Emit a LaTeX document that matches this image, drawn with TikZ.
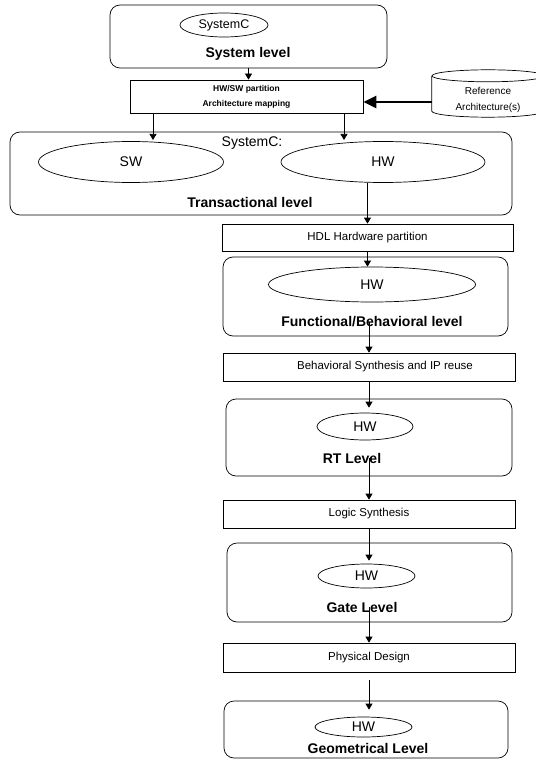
\documentclass[tikz,border=0pt]{standalone}
\usepackage{fontspec}
\setmainfont{Liberation Sans}
\usetikzlibrary{arrows.meta,shapes.geometric}
\newcommand{\fsz}[2]{\fontsize{#1}{#2}\selectfont}

\begin{document}
\begin{tikzpicture}[x=1pt, y=-1pt, >={Triangle[length=6pt,width=7pt]},
  levelbox/.style={draw, rounded corners=10pt, line width=0.7pt, inner sep=0pt},
  stepbox/.style={draw, line width=0.7pt, inner sep=0pt, font=\fsz{11.5}{14}},
  hwell/.style={draw, ellipse, line width=0.7pt, inner sep=0pt, font=\fsz{14}{16}},
  lvllabel/.style={font=\bfseries\fsz{14}{16}},
  link/.style={->, line width=0.7pt}]
\useasboundingbox (0,0) rectangle (535,759);
% system level
\node[levelbox, minimum width=277pt, minimum height=63pt] (sysbox) at (248.5,36.5) {};
\node[hwell, minimum width=88pt, minimum height=24pt, font=\fsz{12.5}{14}] (sysc) at (224,25) {SystemC};
\node[lvllabel] (syslbl) at (248,54) {System level};
% partition and reference architecture
\node[stepbox, minimum width=233pt, minimum height=33pt, align=center, font=\bfseries\fsz{8.5}{15}] (mapping) at (246.5,96.5) {HW/SW partition\\Architecture mapping};
\node[minimum width=112pt, minimum height=48pt, inner sep=0pt, align=center, font=\fsz{10}{16}] (refarch) at (488,100) {Reference\\Architecture(s)};
\draw[line width=0.7pt] (refarch.north) ellipse [x radius=56pt, y radius=6pt];
\draw[line width=0.7pt] (refarch.north west) -- ([yshift=13pt]refarch.south west)
  arc[start angle=180, end angle=360, x radius=56pt, y radius=6pt] -- (refarch.north east);
% transactional level
\node[levelbox, minimum width=502pt, minimum height=83pt] (transbox) at (261,173.5) {};
\node[font=\fsz{14}{16}] (scsub) at (252,143) {SystemC:};
\node[hwell, minimum width=185pt, minimum height=41pt] (sw) at (131,162) {SW};
\node[hwell, minimum width=204pt, minimum height=41pt] (hw1) at (383,162) {HW};
\node[lvllabel] (translbl) at (250,202) {Transactional level};
\coordinate (swin) at (153,140);
\coordinate (hwin) at (344,140);
% lower flow
\node[stepbox, minimum width=291pt, minimum height=27pt] (hdl) at (367.5,237.5) {HDL Hardware partition\hspace{18pt}};
\node[levelbox, minimum width=285pt, minimum height=79pt] (funcbox) at (365.5,296.5) {};
\node[hwell, minimum width=207pt, minimum height=35pt] (hw2) at (372,284.5) {HW};
\node[lvllabel] (funclbl) at (372,322) {Functional/Behavioral level};
\node[stepbox, minimum width=292pt, minimum height=28pt] (behav) at (369,367) {\hspace{32pt}Behavioral Synthesis and IP reuse};
\node[levelbox, minimum width=286pt, minimum height=77pt] (rtbox) at (369,437.5) {};
\node[hwell, minimum width=96pt, minimum height=27pt] (hw3) at (365,426.5) {HW};
\node[lvllabel] (rtlbl) at (352,458) {RT Level};
\node[stepbox, minimum width=292pt, minimum height=28pt] (logic) at (369,514) {Logic Synthesis};
\node[levelbox, minimum width=285pt, minimum height=79pt] (gatebox) at (369.5,582.5) {};
\node[hwell, minimum width=97pt, minimum height=24pt] (hw4) at (366.5,576) {HW};
\node[lvllabel] (gatelbl) at (362,607) {Gate Level};
\node[stepbox, minimum width=292pt, minimum height=29pt] (phys) at (369,657.5) {Physical Design};
\node[levelbox, minimum width=284pt, minimum height=57pt] (geobox) at (366,729.5) {};
\node[hwell, minimum width=97pt, minimum height=20pt] (hw5) at (363.5,727) {HW};
\node[lvllabel] (geolbl) at (368,748) {Geometrical Level};
% connectors
\draw[link] (sysbox.south) -- (sysbox.south |- mapping.north);
\draw[->, line width=2.8pt, >={Triangle[length=13pt,width=12pt]}] ([yshift=-2pt]refarch.west) -- ([yshift=-2pt]refarch.west -| mapping.east);
\draw[link] (mapping.south -| swin) -- (swin);
\draw[link] (mapping.south -| hwin) -- (hwin);
\draw[link] (hdl.north |- hw1.south) -- (hdl.north);
\draw[link] (hdl.south) -- (hdl.south |- hw2.north);
\draw[link] (behav.north |- funclbl.center) -- (behav.north);
\draw[link, shorten >=5pt] (behav.south) -- (behav.south |- hw3.north);
\draw[link] (logic.north |- rtlbl.center) -- (logic.north);
\draw[link, shorten >=3pt] (logic.south) -- (logic.south |- hw4.north);
\draw[link] (phys.north |- gatelbl.center) -- (phys.north);
\draw[link, shorten <=8pt, shorten >=7pt] (phys.south) -- (phys.south |- hw5.north);
\end{tikzpicture}
\end{document}
